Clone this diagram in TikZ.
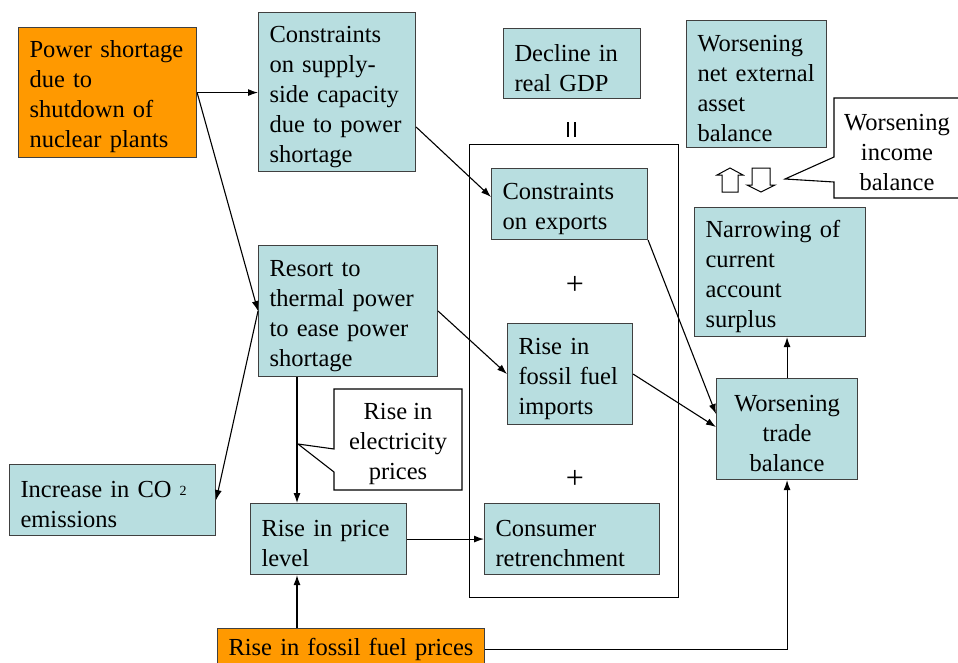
\documentclass[tikz,border=0pt]{standalone}
\usepackage{fontspec}
\setmainfont{Liberation Serif}
\usetikzlibrary{arrows.meta,calc}
\definecolor{tealbox}{HTML}{B8DEE0}
\definecolor{orangebox}{HTML}{FF9900}
\definecolor{boxline}{HTML}{404040}
\begin{document}
\begin{tikzpicture}[x=1pt,y=-1pt,
  every node/.style={font=\fontsize{24.5}{30}\selectfont},
  bxbase/.style={draw=boxline,line width=1.1pt,fill=tealbox,anchor=north west,align=left,inner xsep=11pt,inner ysep=0pt},
  bx/.style={bxbase,execute at begin node={\rule{0pt}{26pt}}},
  obx/.style={bx,fill=orangebox},
  arr/.style={-{Latex[length=10pt,width=7pt]},line width=1.1pt,black},
  ln/.style={line width=1.1pt,black}]
\useasboundingbox (0,0) rectangle (958,662);

% container
\draw[ln,line width=0.9pt] (469,144) rectangle (678,597);
\draw[ln] (568,122) -- (568,137);
\draw[ln] (575,122) -- (575,137);
\node[font=\fontsize{32}{32}\selectfont] (plus1) at (575,285) {+};
\node[font=\fontsize{32}{32}\selectfont] (plus2) at (575,479) {+};

% boxes
\node[obx,text width=156pt,minimum height=130pt] (ps) at (18,27) {Power shortage\\due to\\shutdown of\\nuclear plants};
\node[bx,text width=135pt,minimum height=159pt] (cs) at (258,12) {Constraints\\on supply-\\side capacity\\due to power\\shortage};
\node[bx,text width=115pt,minimum height=70pt] (gdp) at (503,28) {Decline in\\real GDP};
\node[bx,text width=118pt,minimum height=127pt] (nea) at (686,20) {Worsening\\net external\\asset\\balance};
\node[bx,text width=134pt,minimum height=71pt] (ce) at (491,168) {Constraints\\on exports};
\node[bx,text width=103pt,minimum height=101pt] (rf) at (507,323) {Rise in\\fossil fuel\\imports};
\node[bx,text width=153pt,minimum height=71pt] (cr) at (484,503) {Consumer\\retrenchment};
\node[bx,text width=149pt,minimum height=129pt] (nca) at (694,207) {Narrowing of\\current\\account\\surplus};
\node[bx,align=center,text width=119pt,minimum height=101pt] (wtb) at (716,378) {Worsening\\trade\\balance};
\node[bx,text width=157pt,minimum height=131pt] (rt) at (258,245) {Resort to\\thermal power\\to ease power\\shortage};
\node[bx,text width=184pt,minimum height=71pt] (co2) at (9,464) {Increase in CO {\raisebox{2pt}{\fontsize{14}{14}\selectfont 2}}\\emissions};
\node[bx,text width=134pt,minimum height=71pt] (pl) at (250,503) {Rise in price\\level};
\node[bxbase,fill=orangebox,text width=245pt,minimum height=42pt] (ffp) at (217,628) {Rise in fossil fuel prices};

% callouts
\draw[ln,fill=white] (334,389) -- (462,389) -- (462,490) -- (334,490) -- (334,472) -- (298,444) -- (334,449) -- cycle;
\node[align=center] (rep) at (398,444) {Rise in\\electricity\\prices};
\draw[ln,fill=white] (834,98) -- (962,98) -- (962,198) -- (834,198) -- (834,182) -- (785,179) -- (834,157) -- cycle;
\node[align=center] (wib) at (897,153) {Worsening\\income\\balance};

% hollow arrows
\draw[ln,line width=1pt,fill=white] (730,168) -- (743,175) -- (738,175) -- (738,192) -- (722,192) -- (722,175) -- (717,175) -- cycle;
\draw[ln,line width=1pt,fill=white] (752,168) -- (770,168) -- (770,185) -- (775,185) -- (761,192) -- (747,185) -- (752,185) -- cycle;

% connectors
\draw[arr] (ps.east) -- (ps.east -| cs.west);
\draw[arr] (ps.east) -- (rt.west);
\draw[arr] (rt.west) -- (co2.east);
\draw[arr] (cs.east |- 0,127) -- (ce.west |- 0,197);
\draw[arr] (rt.east) -- (rf.west);
\draw[arr] (rt.south -| 297,0) -- (pl.north -| 297,0);
\draw[arr] (pl.east) -- (cr.west);
\draw[arr] (ce.south east) -- (wtb.west |- 0,414);
\draw[arr] (rf.east) -- (wtb.west |- 0,427);
\draw[arr] (wtb.north) -- (wtb.north |- nca.south);
\draw[arr] (ffp.north -| 297,0) -- (pl.south -| 297,0);
\draw[arr] (ffp.east) -| (wtb.south);
\end{tikzpicture}
\end{document}
